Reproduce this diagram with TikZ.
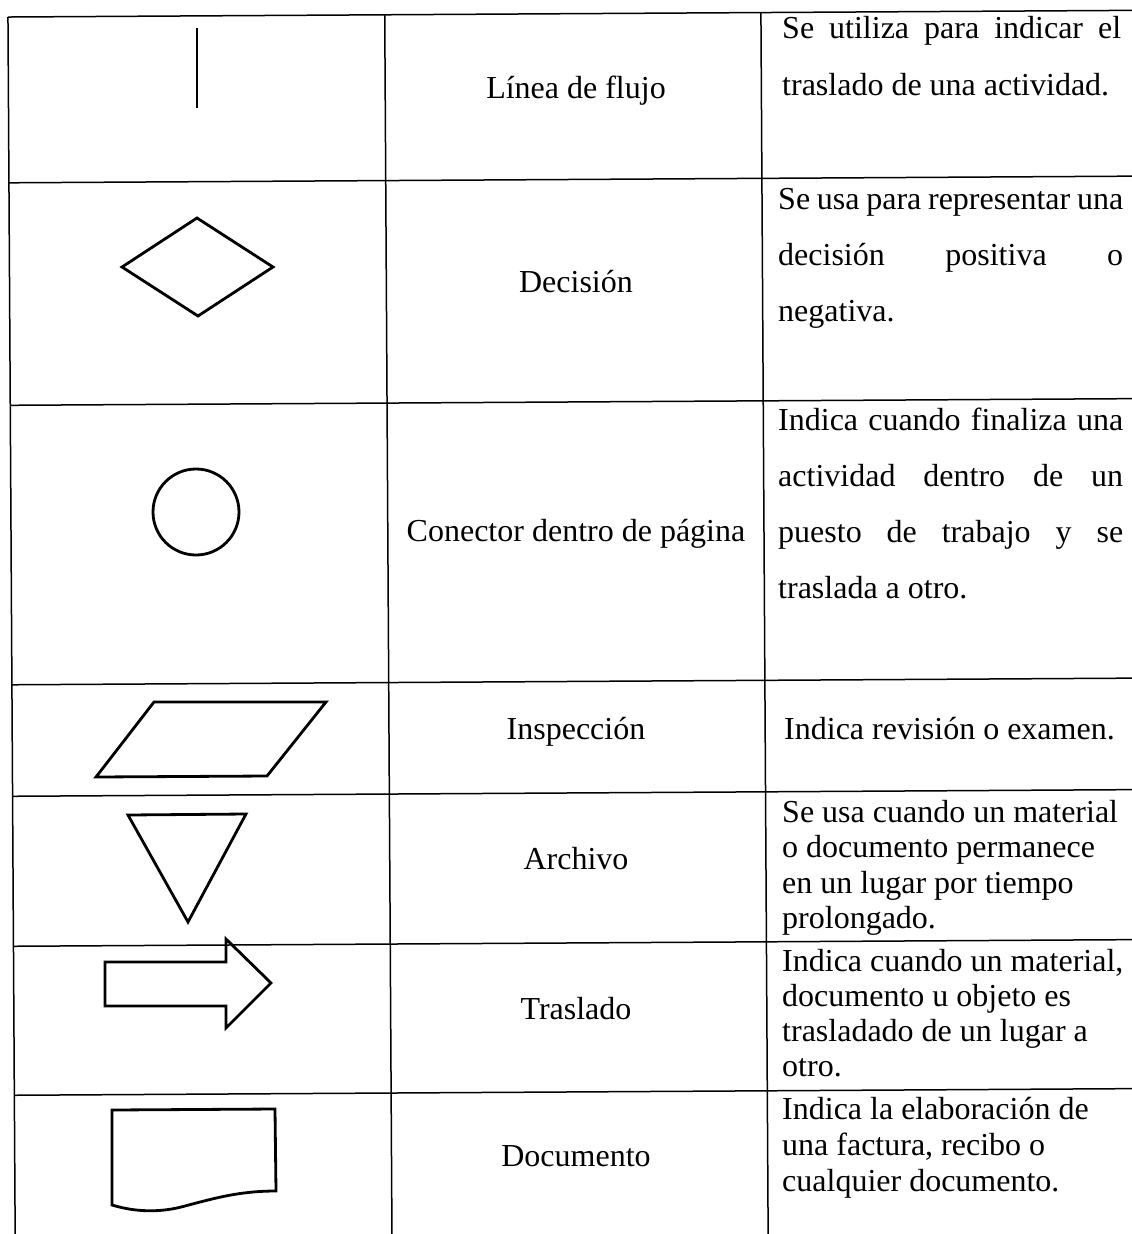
\documentclass[tikz,border=0pt]{standalone}
\usepackage{fontspec}
\setmainfont{Liberation Serif}
\begin{document}
\begin{tikzpicture}[x=1pt,y=-1pt,
  gridline/.style={line width=1.5pt},
  shp/.style={line width=2.8pt, line join=miter},
  lbl/.style={inner sep=0pt, anchor=base, font=\fontsize{32}{38}\selectfont},
  dsc/.style={inner sep=0pt, anchor=base west, font=\fontsize{32}{38}\selectfont}]
\useasboundingbox (0,0) rectangle (1132,1234);
\clip (0,0) rectangle (1132,1234);

% table grid (slightly rotated, like the scan)
\begin{scope}[rotate around={0.34:(566,617)}]
  \foreach \yy in {13.7,179.5,402,681.5,793,943,1092}
    \draw[gridline] (11.5,\yy) -- (1170,\yy);
  \foreach \xx in {11.5,388.3,764.5}
    \draw[gridline] (\xx,13.7) -- (\xx,1270);
\end{scope}

% symbols
\draw[shp] (197,28) -- (197,108);
\draw[shp] (122,267) -- (197,218) -- (273,267) -- (198,316) -- cycle;
\draw[shp] (196,512) circle (43);
\draw[shp] (154,702) -- (326,702) -- (267,776) -- (96,777) -- cycle;
\draw[shp] (128,815) -- (246,814) -- (188,922) -- cycle;
\draw[shp] (105,962) -- (226,962) -- (226,939) -- (271,983) -- (226,1028) -- (226,1006) -- (105,1006) -- cycle;
\draw[shp] (112,1110) -- (275,1109) -- (276,1191)
  .. controls (240,1191) and (215,1198) .. (185,1206)
  .. controls (160,1213) and (135,1212) .. (112,1205) -- cycle;

% names
\node[lbl] (n1) at (576,98) {Línea de flujo};
\node[lbl] (n2) at (576,292) {Decisión};
\node[lbl] (n3) at (576,541) {Conector dentro de página};
\node[lbl] (n4) at (576,739) {Inspección};
\node[lbl] (n5) at (576,869) {Archivo};
\node[lbl] (n6) at (576,1019) {Traslado};
\node[lbl] (n7) at (576,1166) {Documento};

% descriptions
\node[dsc] (d1a) at (782,38) {\makebox[339pt][s]{Se utiliza para indicar el}};
\node[dsc] (d1b) at (782,95) {traslado de una actividad.};

\node[dsc] (d2a) at (778,209) {\makebox[345pt][s]{Se usa para representar una}};
\node[dsc] (d2b) at (778,265) {\makebox[345pt][s]{decisión positiva o}};
\node[dsc] (d2c) at (778,321) {negativa.};

\node[dsc] (d3a) at (778,430) {\makebox[345pt][s]{Indica cuando finaliza una}};
\node[dsc] (d3b) at (778,486) {\makebox[345pt][s]{actividad dentro de un}};
\node[dsc] (d3c) at (778,542) {\makebox[345pt][s]{puesto de trabajo y se}};
\node[dsc] (d3d) at (778,598) {traslada a otro.};

\node[dsc] (d4a) at (784,739) {Indica revisión o examen.};

\node[dsc] (d5a) at (782,822) {Se usa cuando un material};
\node[dsc] (d5b) at (782,857) {o documento permanece};
\node[dsc] (d5c) at (782,893) {en un lugar por tiempo};
\node[dsc] (d5d) at (782,928) {prolongado.};

\node[dsc] (d6a) at (782,971) {Indica cuando un material,};
\node[dsc] (d6b) at (782,1006) {documento u objeto es};
\node[dsc] (d6c) at (782,1041) {trasladado de un lugar a};
\node[dsc] (d6d) at (782,1076) {otro.};

\node[dsc] (d7a) at (782,1119) {Indica la elaboración de};
\node[dsc] (d7b) at (782,1155) {una factura, recibo o};
\node[dsc] (d7c) at (782,1191) {cualquier documento.};
\end{tikzpicture}
\end{document}
